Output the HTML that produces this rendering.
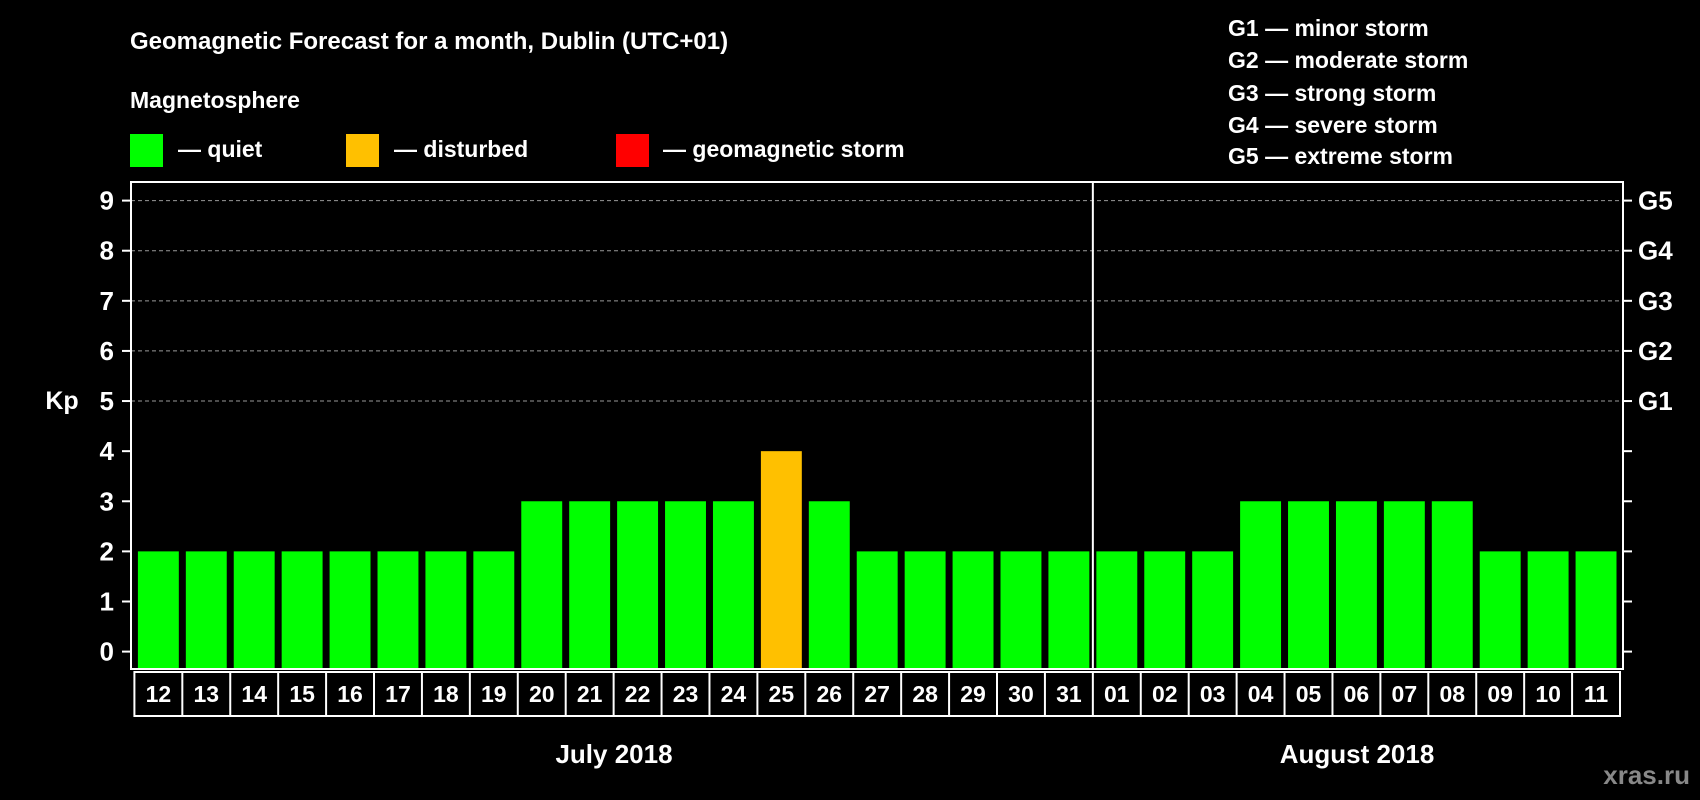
<!DOCTYPE html>
<html><head><meta charset="utf-8"><style>
html,body{margin:0;padding:0;background:#000;width:1700px;height:800px;overflow:hidden}
svg{display:block;font-family:"Liberation Sans",Arial,sans-serif;font-weight:bold}
</style></head><body>
<svg id="chart" width="1700" height="800" viewBox="0 0 1700 800">
<text x="130" y="49" fill="#fff" font-size="24">Geomagnetic Forecast for a month, Dublin (UTC+01)</text>
<text x="130" y="108" fill="#fff" font-size="23">Magnetosphere</text>
<rect x="130" y="134" width="33" height="33" fill="#00ff00"/>
<text x="178" y="157" fill="#fff" font-size="23">— quiet</text>
<rect x="346" y="134" width="33" height="33" fill="#ffc000"/>
<text x="394" y="157" fill="#fff" font-size="23">— disturbed</text>
<rect x="616" y="134" width="33" height="33" fill="#ff0000"/>
<text x="663" y="157" fill="#fff" font-size="23">— geomagnetic storm</text>
<g font-size="23" fill="#fff">
<text x="1228" y="36">G1 — minor storm</text>
<text x="1228" y="68">G2 — moderate storm</text>
<text x="1228" y="101">G3 — strong storm</text>
<text x="1228" y="133">G4 — severe storm</text>
<text x="1228" y="164">G5 — extreme storm</text>
</g>
<text x="62" y="409" fill="#fff" font-size="25" text-anchor="middle">Kp</text>
<text x="614" y="763" fill="#fff" font-size="26" text-anchor="middle">July 2018</text>
<text x="1357" y="763" fill="#fff" font-size="26" text-anchor="middle">August 2018</text>
<text x="1690" y="784" fill="#888" font-size="26" text-anchor="end">xras.ru</text>
<g id="plot"></g>
</svg>
<script>
const days = ["12","13","14","15","16","17","18","19","20","21","22","23","24","25","26","27","28","29","30","31","01","02","03","04","05","06","07","08","09","10","11"];
const kpValues = [2,2,2,2,2,2,2,2,3,3,3,3,3,4,3,2,2,2,2,2,2,2,2,3,3,3,3,3,2,2,2];
const yTicks = [0,1,2,3,4,5,6,7,8,9];
const gLabels = ["G1","G2","G3","G4","G5"];
const gLevels = [5,6,7,8,9];
const monthSplit = 20;

const NS="http://www.w3.org/2000/svg";
const g=document.getElementById('plot');
const L=131,R=1623,T=182,B=669,colL=134.4,colR=1620;
const colW=(colR-colL)/days.length;
const y=v=>651.6-(651.6-200.6)/9*v;
const x=i=>colL+i*colW;
function mk(t,a){const e=document.createElementNS(NS,t);for(const k in a)e.setAttribute(k,a[k]);g.appendChild(e);return e;}
// grid
gLevels.forEach(v=>{
 const l=mk('line',{x1:L,x2:R,y1:y(v),y2:y(v),stroke:'#999','stroke-width':1,'stroke-dasharray':'4,3'});
 
 
});
// bars
kpValues.forEach((v,i)=>{
 const c=v>=5?'#ff0000':(v>=4?'#ffc000':'#00ff00');
 const r=mk('rect',{x:x(i)+3.5,y:y(v),width:colW-7,height:B-y(v),fill:c});
 
 
});
// frame
const f=mk('rect',{x:L,y:T,width:R-L,height:B-T,fill:'none',stroke:'#fff','stroke-width':2});


const sp=mk('line',{x1:x(monthSplit),x2:x(monthSplit),y1:T,y2:B,stroke:'#fff','stroke-width':2});


// y ticks
yTicks.forEach(v=>{
 const t1=mk('line',{x1:L-9,x2:L,y1:y(v),y2:y(v),stroke:'#fff','stroke-width':2});
 
 
 const t2=mk('line',{x1:R,x2:R+9,y1:y(v),y2:y(v),stroke:'#fff','stroke-width':2});
 
 
 const tx=mk('text',{x:114,y:y(v)+9,fill:'#fff','font-size':26,'text-anchor':'end'});
 tx.textContent=v;
 
 
});
gLabels.forEach((s,i)=>{
 const tx=mk('text',{x:1638,y:y(gLevels[i])+9,fill:'#fff','font-size':26});
 tx.textContent=s;
 
 
});
// date boxes
const box=mk('rect',{x:colL,y:672,width:colR-colL,height:44,fill:'none',stroke:'#fff','stroke-width':2});


days.forEach((d,i)=>{
 if(i>0){const l=mk('line',{x1:x(i),x2:x(i),y1:672,y2:716,stroke:'#fff','stroke-width':2});
 
 }
 const tx=mk('text',{x:x(i)+colW/2,y:702,fill:'#fff','font-size':23,'text-anchor':'middle'});
 tx.textContent=d;
 
 
});
</script>
</body></html>
